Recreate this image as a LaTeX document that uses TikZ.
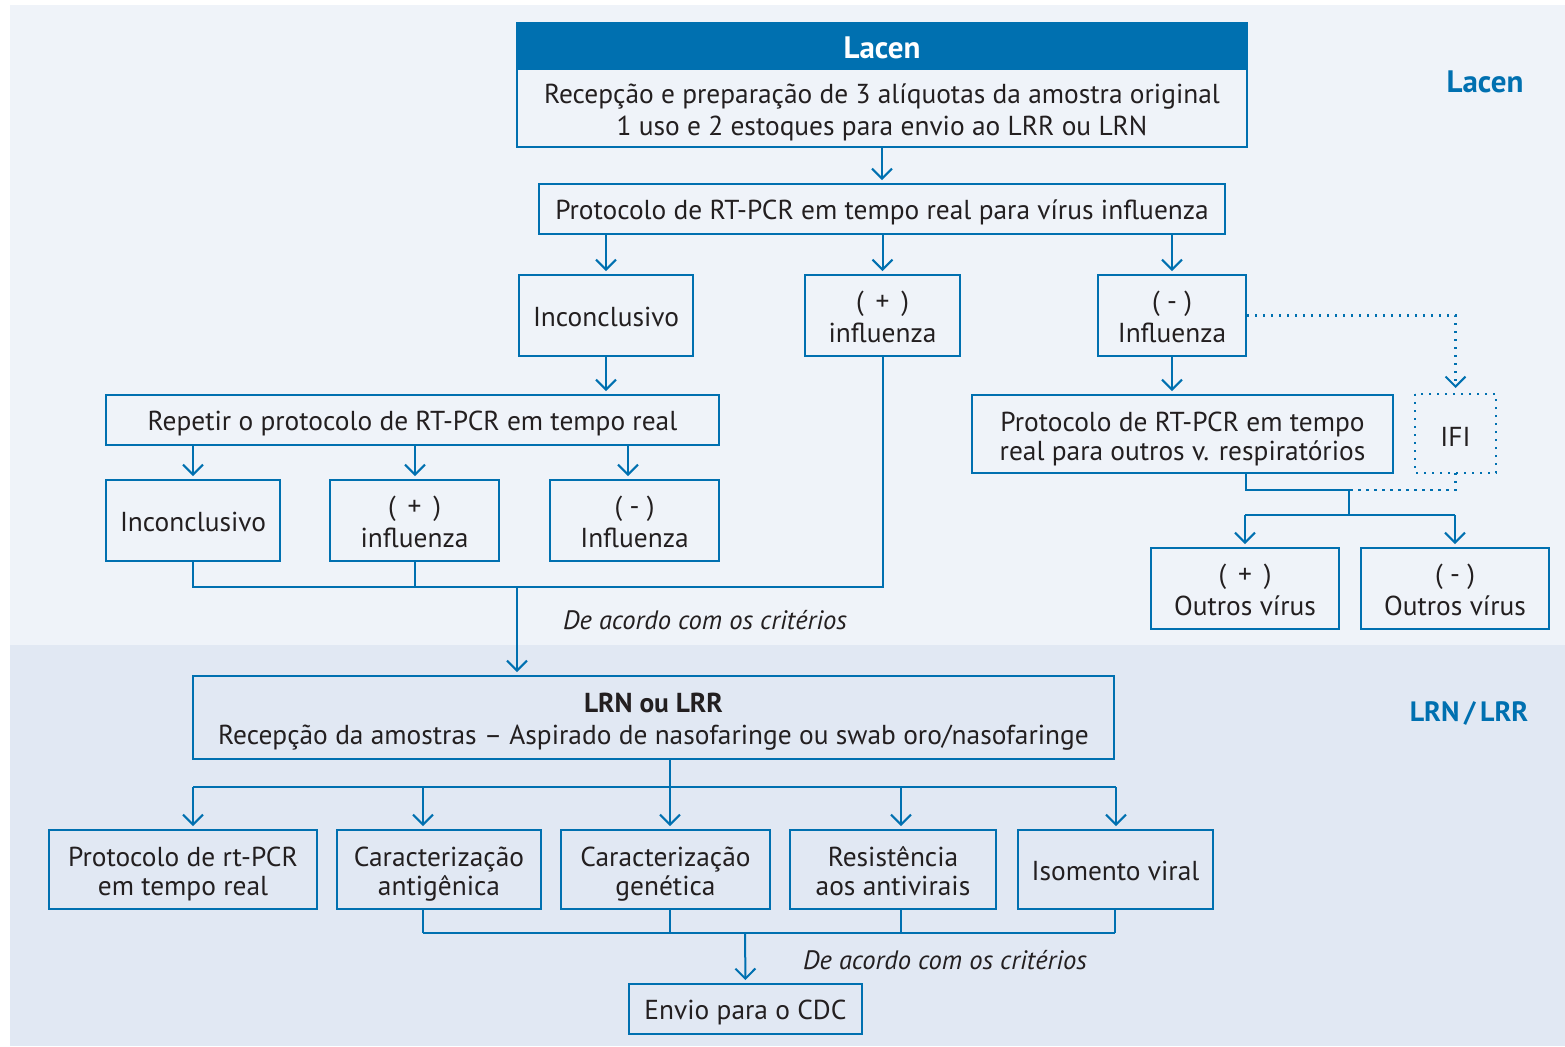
\documentclass[tikz,border=0pt]{standalone}
\usepackage{fontspec}
\setmainfont{PT Sans}
\usetikzlibrary{arrows.meta,calc}
\definecolor{cblue}{HTML}{0070B0}
\definecolor{bgtop}{HTML}{EFF3F9}
\definecolor{bgbot}{HTML}{E1E8F3}
\definecolor{ctext}{HTML}{231F20}
\newcommand{\fl}[1]{\rule{0pt}{#1}}
\begin{document}
\begin{tikzpicture}[x=0.5pt,y=-0.5pt,
  font=\fontsize{13.7}{16}\selectfont, text=ctext,
  box/.style={draw=cblue,line width=1pt,inner sep=0pt,align=center},
  sbox/.style={box,execute at begin node={\rule{0pt}{13pt}}},
  tbox/.style={box,execute at begin node={\rule{0pt}{11pt}}},
  lowbox/.style={box,font=\fontsize{13.7}{14.5}\selectfont},
  conn/.style={draw=cblue,line width=1pt},
  arr/.style={conn,-{Straight Barb[length=5pt,width=10pt,line width=1pt]},shorten >=1.5pt},
  dots/.style={draw=cblue,line width=1.2pt,dash pattern=on 1.2pt off 2.8pt},
  note/.style={font=\fontsize{13.3}{16}\selectfont\itshape,anchor=west},
  side/.style={text=cblue}]
\useasboundingbox (0,0) rectangle (1565,1046);
\fill[white] (0,0) rectangle (1565,1046);
\fill[bgtop] (10,5) rectangle (1565,645);
\fill[bgbot] (10,645) rectangle (1565,1046);
% side labels
\node[side,font=\fontsize{15.5}{16}\selectfont\bfseries] (slacen) at (1485,82) {Lacen};
\node[side,font=\fontsize{14}{16}\selectfont\bfseries] (slrn) at (1469,713) {LRN\,/\,LRR};
% Lacen block
\node[sbox,fill=cblue,text=white,font=\fontsize{15.5}{16}\selectfont\bfseries,minimum width=365pt,minimum height=23pt] (lacenhead) at (882,46) {Lacen};
\node[box,minimum width=365pt,minimum height=39pt] (lacenbody) at (882,108) {\fl{14pt}Recepção e preparação de 3 alíquotas da amostra original\\1 uso e 2 estoques para envio ao LRR ou LRN};
\node[sbox,minimum width=343pt,minimum height=25pt] (prot) at (882,209) {Protocolo de RT-PCR em tempo real para vírus influenza};
\node[tbox,minimum width=87pt,minimum height=40.5pt] (inc1) at (606,315.5) {Inconclusivo};
\node[box,minimum width=77.5pt,minimum height=40.5pt] (pos1) at (882.5,315.5) {\fl{11.3pt}( \,+\, )\\influenza};
\node[box,minimum width=74pt,minimum height=40.5pt] (neg1) at (1172,315.5) {\fl{11.3pt}( - )\\Influenza};
\node[sbox,draw=none,minimum width=39.5pt,minimum height=38.5pt] (ifi) at (1455.5,433.5) {IFI};
\draw[dots] (ifi.north west) rectangle (ifi.south east);
\node[lowbox,minimum width=210.5pt,minimum height=39pt] (prot2) at (1182.5,434) {\fl{14.5pt}Protocolo de RT-PCR em tempo\\real para outros v. respiratórios};
\node[box,minimum width=94pt,minimum height=40.5pt] (posO) at (1245,588.5) {\fl{11.3pt}( \,+\, )\\Outros vírus};
\node[box,minimum width=94pt,minimum height=40.5pt] (negO) at (1455,588.5) {\fl{11.3pt}( - )\\Outros vírus};
\node[sbox,minimum width=306.5pt,minimum height=25pt] (rep) at (412.5,420) {Repetir o protocolo de RT-PCR em tempo real};
\node[tbox,minimum width=87pt,minimum height=40.5pt] (inc2) at (193,520.5) {Inconclusivo};
\node[box,minimum width=84.5pt,minimum height=40.5pt] (pos2) at (414.5,520.5) {\fl{11.3pt}( \,+\, )\\influenza};
\node[box,minimum width=84.5pt,minimum height=40.5pt] (neg2) at (634.5,520.5) {\fl{11.3pt}( - )\\Influenza};
\node[note] (crit1) at (556,620) {De acordo com os critérios};
% LRN block
\node[box,minimum width=460.5pt,minimum height=41.5pt] (lrn) at (653.5,717.5) {\fl{13.6pt}\textbf{LRN ou LRR}\\Recepção da amostras -- Aspirado de nasofaringe ou swab oro/nasofaringe};
\node[lowbox,minimum width=134pt,minimum height=39.5pt] (b1) at (183,869.5) {\fl{14.5pt}Protocolo de rt-PCR\\em tempo real};
\node[lowbox,minimum width=102pt,minimum height=39.5pt] (b2) at (439,869.5) {\fl{14.5pt}Caracterização\\antigênica};
\node[lowbox,minimum width=104.5pt,minimum height=39.5pt] (b3) at (665.5,869.5) {\fl{14.5pt}Caracterização\\genética};
\node[lowbox,minimum width=103pt,minimum height=39.5pt] (b4) at (893,869.5) {\fl{11.5pt}Resistência\\aos antivirais};
\node[tbox,minimum width=97.5pt,minimum height=39.5pt] (b5) at (1115.5,869.5) {Isomento viral};
\node[note] (crit2) at (796,960) {De acordo com os critérios};
\node[sbox,minimum width=116.5pt,minimum height=25pt] (cdc) at (745.5,1009) {Envio para o CDC};
% connectors top
\draw[arr] (lacenbody.south) -- (prot.north);
\draw[arr] (inc1.north |- prot.south) -- (inc1.north);
\draw[arr] (pos1.north |- prot.south) -- (pos1.north);
\draw[arr] (neg1.north |- prot.south) -- (neg1.north);
\draw[arr] (neg1.south) -- (neg1.south |- prot2.north);
\draw[dots,-{Straight Barb[length=5pt,width=10pt,line width=1pt]},shorten >=3pt] (neg1.east) -| (ifi.north);
\draw[arr] (inc1.south) -- (inc1.south |- rep.north);
\coordinate (r1) at (193,445);
\coordinate (r2) at (415,445);
\coordinate (r3) at (628,445);
\draw[arr] (r1) -- (r1 |- inc2.north);
\draw[arr] (r2) -- (r2 |- pos2.north);
\draw[arr] (r3) -- (r3 |- neg2.north);
\coordinate (j1) at (517,587);
\draw[conn] (inc2.south) -- (inc2.south |- j1) -- (pos1.south |- j1) -- (pos1.south);
\draw[conn] (pos2.south) -- (pos2.south |- j1);
\draw[arr] (j1) -- (j1 |- lrn.north);
% right side
\coordinate (p2s) at (1246,473);
\coordinate (j2) at (1349,490);
\coordinate (j3) at (1349,515);
\draw[conn] (p2s) |- (j2) -- (j3);
\draw[dots] (ifi.south) |- (j2);
\draw[conn] (posO.north |- j3) -- (negO.north |- j3);
\draw[arr] (posO.north |- j3) -- (posO.north);
\draw[arr] (negO.north |- j3) -- (negO.north);
% LRN connectors
\coordinate (j4) at (670,787);
\coordinate (a1) at (193,787);
\coordinate (a2) at (423,787);
\coordinate (a3) at (670,787);
\coordinate (a4) at (901,787);
\coordinate (a5) at (1116,787);
\draw[conn] (j4 |- lrn.south) -- (j4);
\draw[conn] (a1) -- (a5);
\draw[arr] (a1) -- (a1 |- b1.north);
\draw[arr] (a2) -- (a2 |- b2.north);
\draw[arr] (a3) -- (a3 |- b3.north);
\draw[arr] (a4) -- (a4 |- b4.north);
\draw[arr] (a5) -- (a5 |- b5.north);
\coordinate (c2) at (423,933);
\coordinate (c3) at (670,933);
\coordinate (c4) at (901,933);
\coordinate (c5) at (1115,933);
\coordinate (c0) at (745,933);
\draw[conn] (c2 |- b2.south) -- (c2);
\draw[conn] (c3 |- b3.south) -- (c3);
\draw[conn] (c4 |- b4.south) -- (c4);
\draw[conn] (c5 |- b5.south) -- (c5);
\draw[conn] (c2) -- (c5);
\draw[arr] (c0) -- (cdc.north);
\end{tikzpicture}
\end{document}
